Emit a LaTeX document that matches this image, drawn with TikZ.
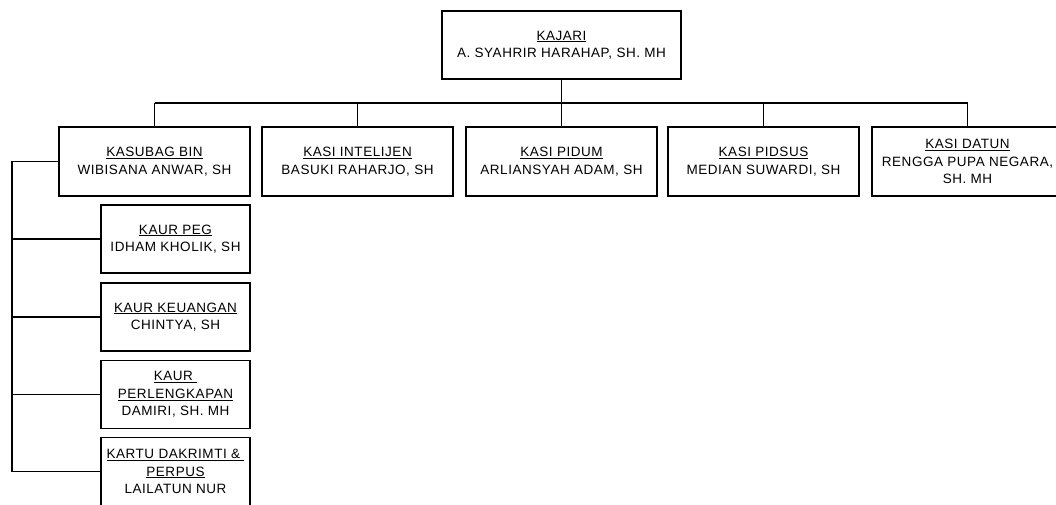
\documentclass[tikz,border=0pt]{standalone}
\usepackage{fontspec}
\setmainfont{Liberation Sans}[LetterSpace=4]
\usetikzlibrary{positioning}

\newcommand{\jabatan}[1]{\underline{#1}}

\begin{document}
\begin{tikzpicture}[x=1pt, y=-1pt, line width=1.1pt,
        font=\fontsize{13.5}{17.5}\selectfont,
        pimpinan/.style={rectangle, draw=black, fill=white, align=center,
                         minimum width=239pt, minimum height=68pt, inner sep=2pt},
        seksi/.style={rectangle, draw=black, fill=white, align=center,
                      minimum width=191pt, minimum height=69pt, inner sep=2pt},
        urusan/.style={rectangle, draw=black, fill=white, align=center,
                       minimum width=149pt, minimum height=68pt, inner sep=2pt}
    ]
        \path[use as bounding box, clip] (0,0) rectangle (1056,505);

        \node[pimpinan] (kajari) at (561.5,45) {\jabatan{KAJARI}\\A. SYAHRIR HARAHAP, SH. MH};

        \node[seksi] (bin)    at (154.5,161.5) {\jabatan{KASUBAG BIN}\\WIBISANA ANWAR, SH};
        \node[seksi] (intel)  at (357.5,161.5) {\jabatan{KASI INTELIJEN}\\BASUKI RAHARJO, SH};
        \node[seksi] (pidum)  at (561.5,161.5) {\jabatan{KASI PIDUM}\\ARLIANSYAH ADAM, SH};
        \node[seksi] (pidsus) at (763.5,161.5) {\jabatan{KASI PIDSUS}\\MEDIAN SUWARDI, SH};
        \node[seksi] (datun)  at (967.5,161.5) {\jabatan{KASI DATUN}\\RENGGA PUPA NEGARA,\\SH. MH};

        \node[urusan] (peg)      at (175.5,239)   {\jabatan{KAUR PEG}\\IDHAM KHOLIK, SH};
        \node[urusan] (keuangan) at (175.5,317)   {\jabatan{KAUR KEUANGAN}\\CHINTYA, SH};
        \node[urusan] (lengkap)  at (175.5,394.5) {\jabatan{KAUR\ }\\\jabatan{PERLENGKAPAN}\\DAMIRI, SH. MH};
        \node[urusan] (perpus)   at (175.5,471.5) {\jabatan{KARTU DAKRIMTI \&\ }\\\jabatan{PERPUS}\\LAILATUN NUR};

        \coordinate (bar) at (561.5,103);
        \coordinate (trunk) at (12,161.5);

        \draw (kajari) -- (bar);
        \draw (bar -| bin.north) -- (bar -| datun.north);
        \foreach \n in {bin,intel,pidum,pidsus,datun}
            \draw (bar -| \n.north) -- (\n.north);

        \draw (bin.west) -- (trunk) -- (trunk |- perpus.west) -- (perpus.west);
        \foreach \n in {peg,keuangan,lengkap}
            \draw (trunk |- \n.west) -- (\n.west);
    \end{tikzpicture}
\end{document}
